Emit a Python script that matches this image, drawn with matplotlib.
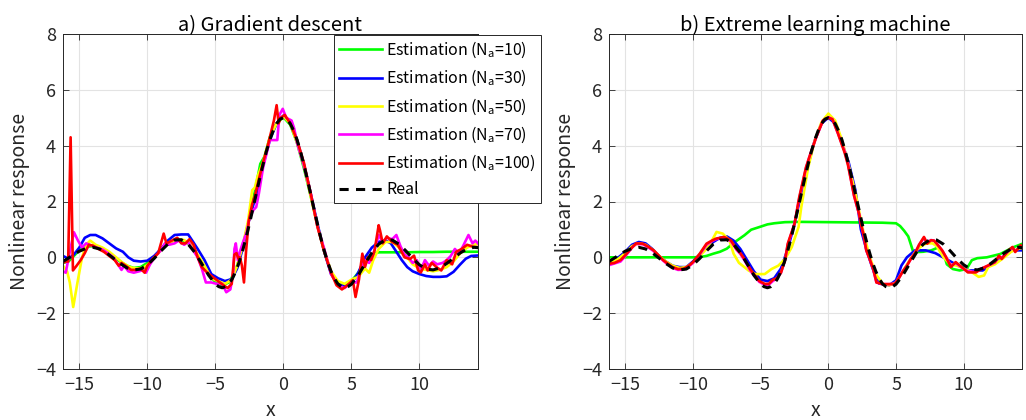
import matplotlib
matplotlib.use("Agg")
import matplotlib.pyplot as plt

plt.rcParams['font.family'] = ['Noto Sans CJK JP', 'DejaVu Sans']
plt.rcParams['axes.unicode_minus'] = True

# ---------------- data ----------------
x_real = [-16.2, -15.5, -15, -14.5, -14, -13.5, -13, -12.5, -12, -11.5, -11, -10.5, -10, -9.5,
          -9, -8.5, -8, -7.5, -7, -6.5, -6, -5.5, -5, -4.75, -4.5, -4.25, -4, -3.75, -3.5, -3.25,
          -3, -2.75, -2.5, -2.25, -2, -1.75, -1.5, -1.25, -1, -0.75, -0.5, -0.25, 0, 0.25, 0.5,
          0.75, 1, 1.25, 1.5, 1.75, 2, 2.25, 2.5, 2.75, 3, 3.25, 3.5, 3.75, 4, 4.25, 4.5, 4.75,
          5, 5.5, 6, 6.5, 7, 7.5, 8, 8.5, 9, 9.5, 10, 10.5, 11, 11.5, 12, 12.5, 13, 13.5, 14, 14.4]
y_real = [-0.15, 0.07, 0.22, 0.32, 0.36, 0.30, 0.16, -0.03, -0.22, -0.38, -0.45, -0.42, -0.27, -0.04,
          0.23, 0.47, 0.62, 0.63, 0.47, 0.17, -0.23, -0.64, -0.96, -1.05, -1.09, -1.05, -0.95, -0.76, -0.50, -0.17,
          0.24, 0.69, 1.20, 1.73, 2.27, 2.81, 3.32, 3.80, 4.21, 4.54, 4.79, 4.95, 5.0, 4.95, 4.79,
          4.54, 4.21, 3.80, 3.32, 2.81, 2.27, 1.73, 1.20, 0.69, 0.24, -0.17, -0.50, -0.76, -0.95, -1.05, -1.09, -1.05,
          -0.96, -0.64, -0.23, 0.17, 0.47, 0.63, 0.62, 0.47, 0.23, -0.04, -0.27, -0.42, -0.45, -0.38, -0.22, -0.03, 0.16, 0.30, 0.36, 0.34]

# a) Gradient descent
gd_x10 = [-16.2, -15.8, -15.4, -15, -14.5, -14, -13.5, -13, -12.5, -12, -11.5, -11, -10.5, -10, -9.5, -9,
          -8.5, -8, -7.5, -7, -6.5, -6, -5.5, -5, -4.5, -4, -3.5, -3, -2.5, -2, -1.7, -1.4, -1, -0.5, 0,
          0.5, 1, 1.5, 2, 2.5, 3, 3.5, 4, 4.5, 5, 5.5, 6, 6.5, 7, 7.5, 8, 9, 10, 11, 12, 13, 14.4]
gd_y10 = [-0.2, -0.15, 0.05, 0.25, 0.38, 0.4, 0.32, 0.2, 0.02, -0.15, -0.3, -0.38, -0.35, -0.2, 0.0, 0.28,
          0.5, 0.62, 0.62, 0.5, 0.2, -0.2, -0.6, -0.9, -1.0, -0.9, -0.45, 0.35, 1.4, 2.6, 3.35, 3.6, 4.3, 4.8, 5.02,
          4.75, 4.1, 3.2, 2.2, 1.15, 0.2, -0.55, -0.95, -1.0, -0.85, -0.55, -0.15, 0.12, 0.18, 0.18, 0.18, 0.18, 0.19, 0.19, 0.2, 0.2, 0.2]

gd_x30 = [-16.2, -15.8, -15.4, -15, -14.6, -14.2, -13.8, -13.3, -12.8, -12.3, -11.8, -11.4, -11, -10.5, -10,
          -9.5, -9, -8.5, -8, -7.5, -7, -6.7, -6.3, -5.8, -5.3, -4.8, -4.3, -3.8, -3.4, -3, -2.6, -2.2, -2,
          -1.5, -1, -0.5, 0, 0.5, 1, 1.5, 2, 2.5, 3, 3.5, 4, 4.5, 5, 5.5, 6, 6.5, 7, 7.45, 7.9, 8.3, 8.7,
          9.1, 9.5, 10, 10.5, 11, 11.5, 12, 12.5, 13, 13.4, 13.8, 14.4]
gd_y30 = [0.05, -0.05, 0.1, 0.35, 0.7, 0.8, 0.8, 0.68, 0.5, 0.32, 0.2, 0.0, -0.12, -0.15, -0.12,
          0.05, 0.3, 0.6, 0.8, 0.82, 0.82, 0.6, 0.3, -0.1, -0.6, -0.75, -0.85, -0.78, -0.4, 0.3, 1.2, 1.9, 2.2,
          3.3, 4.2, 4.8, 5.08, 4.85, 4.2, 3.35, 2.3, 1.2, 0.2, -0.6, -0.95, -1.05, -0.95, -0.55, 0.0, 0.35, 0.55, 0.62, 0.5, 0.2, -0.1,
          -0.35, -0.5, -0.6, -0.67, -0.7, -0.7, -0.68, -0.52, -0.25, -0.05, 0.05, 0.07]

gd_x50 = [-16.2, -15.9, -15.7, -15.45, -15.1, -14.8, -14.5, -14.2, -13.8, -13.3, -12.8, -12.3, -11.8, -11.3,
          -10.8, -10.3, -9.8, -9.3, -8.8, -8.3, -7.8, -7.3, -6.8, -6.3, -5.8, -5.3, -4.8, -4.3, -3.8, -3.4,
          -3, -2.6, -2.3, -2.1, -1.9, -1.5, -1, -0.5, 0, 0.5, 1, 1.5, 2, 2.5, 3, 3.5, 4, 4.5, 5, 5.5, 6,
          6.3, 6.6, 7, 7.5, 8, 8.5, 9, 9.5, 10, 10.5, 11, 11.5, 12, 12.5, 13, 13.5, 14, 14.4]
gd_y50 = [-0.3, -0.5, -0.9, -1.78, -0.8, 0.0, 0.45, 0.6, 0.45, 0.35, 0.2, 0.0, -0.2, -0.35,
          -0.4, -0.38, -0.2, 0.1, 0.35, 0.55, 0.65, 0.62, 0.45, 0.1, -0.3, -0.75, -0.85, -0.95, -0.8, -0.3,
          0.4, 1.3, 2.4, 2.5, 2.9, 3.4, 4.3, 4.8, 5.05, 4.8, 4.1, 3.3, 2.2, 1.1, 0.25, -0.5, -0.85, -0.95, -0.8, -0.7, -0.4,
          -0.55, -0.1, 0.3, 0.55, 0.55, 0.35, 0.05, -0.25, -0.4, -0.45, -0.5, -0.45, -0.35, -0.15, 0.15, 0.35, 0.45, 0.5]

gd_x70 = [-16.2, -16.0, -15.7, -15.4, -15.1, -14.8, -14.5, -14.1, -13.7, -13.3, -12.9, -12.5, -12.1, -11.9,
          -11.7, -11.4, -11.0, -10.6, -10.3, -10.1, -9.8, -9.4, -9.0, -8.7, -8.4, -8.0, -7.7, -7.3, -7.0,
          -6.7, -6.3, -6.0, -5.7, -5.3, -4.9, -4.5, -4.2, -3.9, -3.7, -3.6, -3.5, -3.35, -3.2, -3.0, -2.7,
          -2.5, -2.2, -2.0, -1.8, -1.5, -1.2, -1.0, -0.75, -0.45, -0.3, -0.05, 0.2, 0.6, 0.8, 1, 1.5, 2,
          2.5, 3, 3.5, 4, 4.5, 5, 5.4, 5.7, 6.0, 6.3, 6.6, 7.0, 7.3, 7.6, 8.0, 8.3, 8.6, 8.9, 9.2, 9.5,
          9.8, 10.1, 10.4, 10.7, 11.0, 11.3, 11.7, 12.0, 12.3, 12.6, 12.9, 13.2, 13.6, 13.9, 14.1, 14.4]
gd_y70 = [-0.5, -0.55, 0.2, 0.9, 0.6, 0.35, 0.5, 0.42, 0.35, 0.28, 0.15, 0.0, -0.3, -0.45,
          -0.3, -0.5, -0.55, -0.5, -0.45, -0.55, -0.25, 0.05, 0.25, 0.5, 0.45, 0.5, 0.6, 0.45, 0.55,
          0.3, 0.0, -0.4, -0.9, -0.9, -0.95, -0.95, -1.25, -1.15, -0.6, 0.3, 0.5, -0.1, 0.2, 0.5, 0.9,
          1.4, 1.7, 1.8, 2.3, 3.2, 3.8, 4.2, 4.2, 4.2, 5.1, 5.32, 5.0, 4.9, 4.6, 4.1, 3.3, 2.3,
          1.1, 0.3, -0.6, -1.0, -1.1, -0.9, -0.9, -0.4, -0.1, -0.2, 0.1, 0.8, 0.55, 0.7, 0.65, 0.8, 0.4, 0.1, 0.0, -0.2,
          -0.1, -0.45, -0.1, -0.3, -0.15, -0.25, -0.2, -0.1, 0.05, 0.3, 0.15, 0.4, 0.8, 0.5, 0.6, 0.45]

gd_x100 = [-16.2, -16.0, -15.82, -15.64, -15.47, -15.2, -14.9, -14.6, -14.3, -14.0, -13.6, -13.2,
           -12.8, -12.4, -12.1, -11.9, -11.6, -11.2, -10.8, -10.5, -10.2, -10.0, -9.6, -9.2, -8.8, -8.6,
           -8.2, -7.8, -7.5, -7.2, -6.9, -6.6, -6.3, -6.0, -5.6, -5.2, -4.8, -4.4, -4.1, -3.8, -3.6, -3.45,
           -3.3, -3.2, -3.05, -2.9, -2.75, -2.55, -2.3, -2.1, -1.8, -1.5, -1.2, -0.9, -0.7, -0.5, -0.35,
           -0.2, 0.1, 0.5, 1, 1.5, 2, 2.5, 3, 3.5, 3.9, 4.3, 4.7, 5.1, 5.3, 5.55, 5.8, 6.0, 6.2, 6.45,
           6.7, 7.0, 7.1, 7.3, 7.6, 8.0, 8.4, 8.9, 9.3, 9.6, 9.9, 10.1, 10.4, 10.6, 10.9, 11.3, 11.6,
           12.0, 12.4, 12.7, 13.1, 13.5, 14.0, 14.4]
gd_y100 = [-0.2, -0.15, -0.15, 4.3, -0.47, -0.3, -0.1, 0.15, 0.45, 0.42, 0.3, 0.2,
           0.05, -0.1, -0.3, -0.2, -0.3, -0.45, -0.45, -0.4, -0.55, -0.3, -0.05, 0.15, 0.85, 0.5,
           0.6, 0.7, 0.5, 0.5, 0.65, 0.45, 0.0, -0.35, -0.55, -0.7, -0.85, -1.0, -1.1, -0.95, 0.1, 0.15,
           -0.05, 0.0, -0.3, -0.9, 0.2, 1.3, 1.9, 2.2, 2.8, 3.4, 3.9, 4.5, 4.9, 5.45, 4.8,
           5.0, 5.1, 4.8, 4.2, 3.4, 2.3, 1.1, 0.2, -0.55, -1.0, -1.15, -1.0, -0.82, -1.42, -0.8, 0.13, -0.34, 0.0, -0.1,
           0.25, 1.15, 0.96, 0.5, 0.75, 0.55, 0.45, 0.0, -0.06, 0.06, -0.47, -0.54, -0.25, -0.47, -0.2, -0.37, -0.47,
           -0.1, -0.25, 0.2, 0.3, 0.45, 0.37, 0.37]

# b) Extreme learning machine
elm_x10 = [-16.2, -14, -12, -10, -9.5, -9, -8.5, -8, -7.5, -6.9, -6.2, -5.7, -5.0, -4.5, -4, -3.2, -2,
           0, 2, 4, 5, 5.3, 5.6, 5.9, 6.1, 6.25, 6.6, 7.0, 7.6, 8.2, 8.5, 8.75, 9.2, 9.7, 10.2, 10.6,
           11.0, 11.7, 12.7, 13.6, 14.4]
elm_y10 = [0.0, 0.0, 0.0, 0.0, 0.01, 0.05, 0.13, 0.2, 0.31, 0.55, 0.79, 0.99, 1.1, 1.18, 1.22, 1.26, 1.27,
           1.26, 1.25, 1.24, 1.22, 1.12, 0.95, 0.75, 0.45, 0.22, 0.19, 0.2, 0.25, 0.37, 0.15, -0.25, -0.42, -0.47, -0.42, -0.1,
           -0.03, 0.0, 0.12, 0.35, 0.5]

elm_x30 = [-16.2, -15.5, -15, -14.5, -14, -13.5, -13, -12.5, -12, -11.5, -11, -10.5, -10, -9.5, -9,
           -8.5, -8, -7.5, -7, -6.5, -6, -5.5, -5, -4.5, -4, -3.5, -3, -2.5, -2, -1.5, -1, -0.5, 0,
           0.5, 1, 1.5, 2, 2.4, 2.8, 3.2, 3.5, 3.75, 4.5, 5.0, 5.4, 5.8, 6.4, 7.2, 7.9, 8.7, 9.4, 10.4,
           11.4, 12.3, 13.6, 14.4]
elm_y30 = [-0.15, 0.0, 0.2, 0.45, 0.55, 0.5, 0.3, 0.05, -0.15, -0.3, -0.35, -0.35, -0.15, 0.1, 0.35,
           0.55, 0.7, 0.75, 0.6, 0.3, -0.1, -0.5, -0.8, -0.85, -0.75, -0.4, 0.3, 1.2, 2.3, 3.3, 4.2, 4.8, 5.0,
           4.8, 4.1, 3.4, 2.4, 1.0, 0.3, -0.3, -0.7, -0.94, -1.0, -0.82, -0.29, 0.0, 0.25, 0.25, 0.15, -0.06, -0.25, -0.47,
           -0.47, -0.17, 0.25, 0.25]

elm_x50 = [-16.2, -15.5, -15, -14.5, -14, -13.5, -13, -12.5, -12, -11.5, -11, -10.5, -10, -9.5, -9,
           -8.6, -8.26, -7.8, -7.3, -7.0, -6.6, -6.2, -5.9, -5.4, -4.7, -4.2, -3.7, -3.2, -2.7, -2.2,
           -2.0, -1.5, -1.0, -0.5, 0, 0.5, 1, 1.5, 2, 2.5, 3, 3.5, 4, 4.5, 5, 5.5, 6, 6.5, 7, 7.3, 7.7,
           8, 8.5, 9, 9.5, 10, 10.5, 11.1, 11.5, 11.8, 12.3, 13, 13.5, 14, 14.4]
elm_y50 = [-0.2, -0.05, 0.15, 0.4, 0.5, 0.45, 0.28, 0.05, -0.15, -0.3, -0.38, -0.35, -0.2, 0.05, 0.3,
           0.6, 0.91, 0.85, 0.6, 0.13, -0.2, -0.35, -0.47, -0.6, -0.6, -0.42, -0.3, -0.06, 0.37, 1.09,
           1.8, 3.2, 4.2, 4.85, 5.15, 4.9, 4.2, 3.3, 2.3, 1.1, 0.1, -0.6, -0.95, -1.0, -0.9, -0.5, -0.1, 0.25, 0.45, 0.5, 0.5,
           0.4, 0.0, -0.25, -0.3, -0.4, -0.5, -0.7, -0.65, -0.35, -0.25, 0.0, 0.2, 0.3, 0.35]

elm_x70 = [-16.2, -15.8, -15.35, -14.9, -14.5, -14.2, -13.7, -13.3, -12.9, -12.5, -12.2, -11.8, -11.5,
           -11.1, -10.7, -10.3, -10.0, -9.5, -9.0, -8.6, -8.3, -7.7, -7.2, -6.8, -6.5, -6.2, -5.8, -5.5,
           -5.1, -4.7, -4.4, -4.1, -3.8, -3.5, -3.2, -3.0, -2.5, -2.15, -1.65, -1.4, -0.9, -0.4, 0, 0.3,
           0.7, 1.2, 1.45, 1.9, 2.27, 2.4, 2.6, 2.8, 3.0, 3.3, 3.55, 4.0, 4.5, 4.9, 5.2, 5.5, 5.8, 6.1,
           6.4, 6.7, 7.06, 7.3, 7.57, 7.8, 8.0, 8.4, 8.7, 9.05, 9.4, 10.0, 10.3, 10.9, 11.3, 11.8, 12.3,
           12.6, 12.8, 13.3, 13.6, 13.8, 14.2, 14.4]
elm_y70 = [-0.28, -0.22, -0.15, 0.1, 0.35, 0.48, 0.47, 0.36, 0.22, 0.02, -0.12, -0.28, -0.38,
           -0.45, -0.44, -0.32, -0.2, 0.1, 0.45, 0.58, 0.65, 0.7, 0.58, 0.28, 0.12, -0.1, -0.45, -0.65,
           -0.88, -0.98, -0.98, -0.85, -0.75, -0.55, -0.1, 0.45, 1.2, 2.1, 3.2, 3.6, 4.3, 4.9, 5.02, 4.95,
           4.45, 3.8, 3.35, 2.2, 1.55, 1.2, 0.8, 0.25, 0.0, -0.4, -0.9, -0.96, -0.96, -0.95, -0.75, -0.5, -0.3, -0.05,
           0.15, 0.45, 0.7, 0.52, 0.62, 0.6, 0.5, 0.25, 0.0, -0.3, -0.2, -0.42, -0.5, -0.52, -0.4, -0.3, -0.18,
           0.02, -0.02, 0.22, 0.35, 0.22, 0.4, 0.3]

elm_x100 = elm_x70
elm_y100 = [-0.23, -0.2, -0.1, 0.13, 0.35, 0.5, 0.49, 0.38, 0.25, 0.05, -0.1, -0.25, -0.35,
            -0.42, -0.41, -0.3, -0.17, 0.13, 0.49, 0.6, 0.67, 0.73, 0.61, 0.31, 0.15, -0.06, -0.4, -0.6,
            -0.85, -0.95, -0.95, -0.8, -0.75, -0.55, -0.1, 0.49, 1.2, 2.16, 3.23, 3.6, 4.3, 4.9, 5.0, 4.95,
            4.45, 3.75, 3.3, 2.2, 1.55, 1.2, 0.8, 0.25, 0.0, -0.4, -0.9, -0.96, -0.96, -0.95, -0.75, -0.5, -0.3, -0.05,
            0.15, 0.45, 0.73, 0.49, 0.61, 0.6, 0.49, 0.25, 0.0, -0.35, -0.17, -0.41, -0.54, -0.54, -0.41, -0.29, -0.17,
            0.06, -0.06, 0.25, 0.37, 0.19, 0.43, 0.35]

labels = ['Estimation (N$_\\mathregular{a}$=10)', 'Estimation (N$_\\mathregular{a}$=30)',
          'Estimation (N$_\\mathregular{a}$=50)', 'Estimation (N$_\\mathregular{a}$=70)',
          'Estimation (N$_\\mathregular{a}$=100)', 'Real']
colors = ['#00ff00', '#0000ff', '#ffff00', '#ff00ff', '#ff0000']
titles = ['a) Gradient descent', 'b) Extreme learning machine']

panels = [
    [(gd_x10, gd_y10), (gd_x30, gd_y30), (gd_x50, gd_y50), (gd_x70, gd_y70), (gd_x100, gd_y100)],
    [(elm_x10, elm_y10), (elm_x30, elm_y30), (elm_x50, elm_y50), (elm_x70, elm_y70), (elm_x100, elm_y100)],
]

# ---------------- figure ----------------
W, H = 1026, 420
fig = plt.figure(figsize=(W / 100, H / 100), dpi=100)
ax1 = fig.add_axes([63 / W, 1 - 369 / H, 415 / W, 335 / H])
ax2 = fig.add_axes([609 / W, 1 - 369 / H, 413 / W, 335 / H])

dark = '#262626'
for ax, series, title in zip([ax1, ax2], panels, titles):
    handles = []
    for (xs, ys), c, lab in zip(series, colors, labels):
        h, = ax.plot(xs, ys, color=c, lw=1.9, label=lab, solid_joinstyle='round')
        handles.append(h)
    h, = ax.plot(x_real, y_real, color='black', lw=2.2, ls=(0, (3.0, 2.4)), label=labels[-1])
    handles.append(h)
    ax.set_xlim(-16.2, 14.3)
    ax.set_ylim(-4, 8)
    ax.set_xticks([-15, -10, -5, 0, 5, 10])
    ax.set_yticks([-4, -2, 0, 2, 4, 6, 8])
    ax.grid(True, color='#e3e3e3', lw=0.8)
    ax.set_axisbelow(True)
    for sp in ax.spines.values():
        sp.set_color(dark)
        sp.set_linewidth(0.7)
    ax.tick_params(direction='in', top=True, right=True, length=4, width=0.6,
                   colors=dark, labelsize=13, pad=5)
    ax.set_title(title, fontsize=14.5, pad=2, color='black')
    ax.set_xlabel('x', fontsize=14, labelpad=4, color=dark)
    ax.set_ylabel('Nonlinear response', fontsize=14, labelpad=4, color=dark)
    if ax is ax1:
        leg = ax.legend(handles=handles, loc='upper right', bbox_to_anchor=(1.152, 0.997),
                        borderaxespad=0, fontsize=11.5, fancybox=False, framealpha=1,
                        edgecolor=dark, handlelength=2.7, handletextpad=0.3,
                        labelspacing=0.5, borderpad=0.3)
        leg.get_frame().set_linewidth(0.7)
        leg.set_zorder(5)

fig.savefig('out.png', dpi=100)
